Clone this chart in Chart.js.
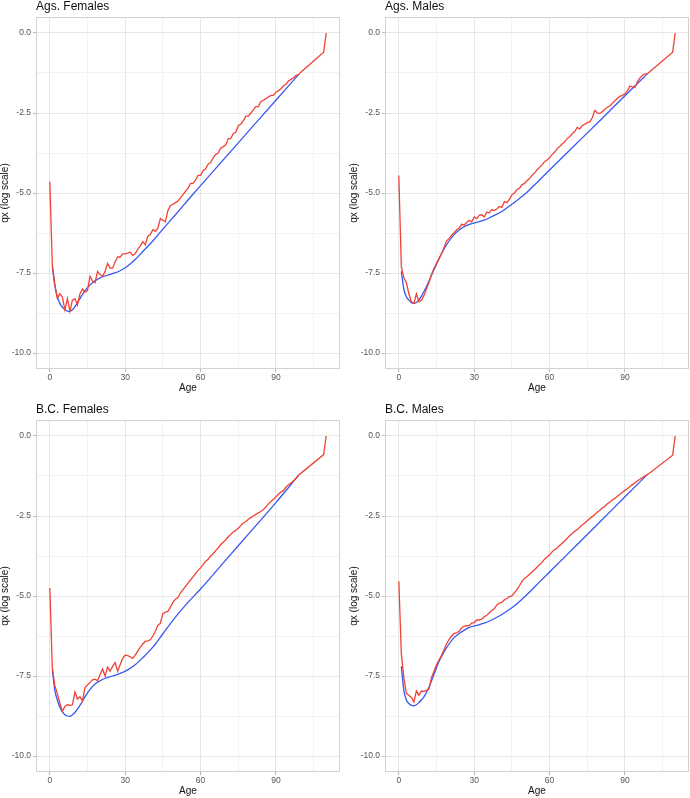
<!DOCTYPE html>
<html>
<head>
<meta charset="utf-8">
<script src="https://cdn.jsdelivr.net/npm/chart.js@4"></script>
<style>
  html, body { margin: 0; padding: 0; background: #fff; overflow: hidden; }
  #wrap { position: relative; width: 690px; height: 798px; overflow: hidden; }
  #wrap canvas { position: absolute; }
</style>
</head>
<body>
<div id="wrap">
  <canvas id="c1" width="345" height="399" style="left:0;top:0"></canvas>
  <canvas id="c2" width="345" height="399" style="left:349px;top:0"></canvas>
  <canvas id="c3" width="345" height="399" style="left:0;top:403px"></canvas>
  <canvas id="c4" width="345" height="399" style="left:349px;top:403px"></canvas>
</div>
<script>
// panel titles
const panelTitles = ['Ags. Females', 'Ags. Males', 'B.C. Females', 'B.C. Males'];

// observed ages (red line)
const obsAges = [0,1,2,3,4,5,6,7,8,9,10,11,12,13,14,15,16,17,18,19,20,21,22,23,24,25,26,27,28,29,
  30,31,32,33,34,35,36,37,38,39,40,41,42,43,44,45,46,47,48,49,50,51,52,53,54,55,56,57,58,59,
  60,61,62,63,64,65,66,67,68,69,70,71,72,73,74,75,76,77,78,79,80,81,82,83,84,85,86,87,88,89,
  90,91,92,93,94,95,96,97,98,99,100,109,110];

// fitted ages (blue line)
const fitAges = [1,2,3,4,5,6,7,8,9,10,12,14,16,18,20,22,25,28,31,34,37,41,45,50,55,60,70,80,90,99];

// log qx, observed
const obsAgsF = [-4.65,-7.25,-7.85,-8.3,-8.15,-8.25,-8.65,-8.3,-8.7,-8.35,-8.3,-8.5,-8.15,-8.0,-8.1,-8.05,-7.6,-7.75,-7.8,-7.45,
  -7.55,-7.6,-7.45,-7.2,-7.35,-7.35,-7.15,-7.0,-7.0,-6.9,-6.9,-6.88,-6.85,-6.95,-6.9,-6.75,-6.65,-6.52,-6.62,-6.35,
  -6.3,-6.15,-6.2,-6.1,-5.8,-5.85,-5.9,-5.55,-5.4,-5.35,-5.3,-5.25,-5.15,-5.05,-4.95,-4.85,-4.7,-4.7,-4.6,-4.45,
  -4.45,-4.3,-4.25,-4.1,-4.05,-3.9,-3.8,-3.75,-3.6,-3.55,-3.5,-3.3,-3.3,-3.15,-3.1,-2.9,-2.85,-2.75,-2.6,-2.6,
  -2.5,-2.4,-2.3,-2.3,-2.15,-2.1,-2.05,-2.0,-1.95,-1.95,-1.85,-1.8,-1.75,-1.65,-1.6,-1.5,-1.45,-1.4,-1.32,-1.3,
  -1.22,-0.6,0.0];
const obsAgsM = [-4.45,-7.3,-7.65,-7.8,-8.15,-8.4,-8.45,-8.15,-8.4,-8.35,-8.2,-8.0,-7.8,-7.55,-7.35,-7.2,-7.05,-6.9,-6.7,-6.5,
  -6.42,-6.32,-6.25,-6.15,-6.1,-5.98,-6.0,-5.92,-5.85,-5.9,-5.75,-5.8,-5.7,-5.68,-5.75,-5.6,-5.62,-5.52,-5.55,-5.5,
  -5.42,-5.45,-5.27,-5.3,-5.2,-5.06,-5.0,-4.9,-4.85,-4.75,-4.7,-4.62,-4.55,-4.45,-4.38,-4.28,-4.2,-4.12,-4.02,-3.97,
  -3.9,-3.8,-3.72,-3.62,-3.55,-3.47,-3.4,-3.3,-3.24,-3.15,-3.08,-2.95,-3.0,-2.9,-2.85,-2.8,-2.78,-2.65,-2.42,-2.5,
  -2.52,-2.45,-2.38,-2.32,-2.28,-2.2,-2.12,-2.05,-1.98,-1.95,-1.9,-1.8,-1.66,-1.68,-1.7,-1.52,-1.4,-1.32,-1.28,-1.27,
  -1.2,-0.6,0.0];
const obsBcF = [-4.75,-7.25,-7.8,-8.05,-8.35,-8.6,-8.45,-8.4,-8.42,-8.4,-8.0,-8.22,-8.15,-8.28,-7.86,-7.78,-7.7,-7.62,-7.6,-7.65,
  -7.45,-7.28,-7.5,-7.22,-7.35,-7.2,-7.08,-7.35,-7.15,-6.95,-6.85,-6.86,-6.9,-6.95,-6.85,-6.72,-6.6,-6.5,-6.42,-6.4,
  -6.37,-6.25,-6.1,-5.92,-5.85,-5.55,-5.5,-5.48,-5.35,-5.2,-5.1,-5.05,-4.9,-4.8,-4.7,-4.6,-4.5,-4.4,-4.3,-4.2,
  -4.12,-4.02,-3.92,-3.85,-3.75,-3.68,-3.58,-3.5,-3.4,-3.32,-3.25,-3.15,-3.08,-3.0,-2.95,-2.88,-2.8,-2.72,-2.68,-2.6,
  -2.55,-2.5,-2.45,-2.4,-2.36,-2.3,-2.22,-2.12,-2.05,-1.98,-1.9,-1.82,-1.75,-1.7,-1.6,-1.52,-1.47,-1.4,-1.32,-1.22,
  -1.16,-0.58,0.0];
const obsBcM = [-4.54,-6.8,-7.55,-8.04,-8.1,-8.17,-8.31,-7.97,-8.1,-7.97,-7.98,-7.95,-7.91,-7.55,-7.35,-7.15,-7.0,-6.85,-6.67,-6.5,
  -6.36,-6.25,-6.17,-6.15,-6.1,-6.0,-5.94,-5.93,-5.92,-5.85,-5.83,-5.75,-5.75,-5.72,-5.65,-5.6,-5.53,-5.45,-5.4,-5.28,
  -5.22,-5.2,-5.12,-5.08,-5.02,-5.0,-4.9,-4.8,-4.68,-4.55,-4.45,-4.4,-4.32,-4.25,-4.18,-4.1,-4.02,-3.95,-3.85,-3.78,
  -3.72,-3.62,-3.55,-3.5,-3.42,-3.35,-3.28,-3.2,-3.12,-3.05,-2.98,-2.92,-2.85,-2.78,-2.72,-2.65,-2.58,-2.52,-2.45,-2.38,
  -2.32,-2.25,-2.2,-2.12,-2.06,-2.0,-1.95,-1.88,-1.82,-1.76,-1.7,-1.65,-1.58,-1.52,-1.46,-1.4,-1.35,-1.3,-1.25,-1.2,
  -1.15,-0.6,0.0];

// log qx, fitted
const fitAgsF = [-7.3,-7.9,-8.25,-8.45,-8.57,-8.64,-8.69,-8.7,-8.65,-8.55,-8.3,-8.05,-7.87,-7.74,-7.65,-7.59,-7.52,-7.43,-7.28,-7.08,
  -6.83,-6.5,-6.13,-5.68,-5.22,-4.77,-3.88,-2.99,-2.1,-1.3];
const fitAgsM = [-7.45,-8.0,-8.24,-8.35,-8.43,-8.45,-8.42,-8.34,-8.22,-8.08,-7.75,-7.4,-7.05,-6.75,-6.5,-6.3,-6.1,-5.98,-5.92,-5.85,
  -5.74,-5.58,-5.35,-5.05,-4.67,-4.28,-3.51,-2.74,-1.96,-1.27];
const fitBcF = [-7.3,-7.95,-8.25,-8.48,-8.62,-8.71,-8.75,-8.76,-8.71,-8.64,-8.42,-8.15,-7.92,-7.75,-7.65,-7.57,-7.5,-7.42,-7.31,-7.15,
  -6.93,-6.6,-6.18,-5.66,-5.2,-4.78,-3.88,-2.98,-2.08,-1.23];
const fitBcM = [-7.2,-7.95,-8.25,-8.36,-8.42,-8.43,-8.4,-8.33,-8.25,-8.15,-7.85,-7.45,-7.05,-6.75,-6.5,-6.3,-6.12,-5.98,-5.92,-5.85,
  -5.75,-5.58,-5.37,-5.03,-4.64,-4.25,-3.47,-2.69,-1.9,-1.2];

const xTicks = [0, 15, 30, 45, 60, 75, 90, 105];
const yTicks = [-10, -8.75, -7.5, -6.25, -5, -3.75, -2.5, -1.25, 0];

const obsSeries = [obsAgsF, obsAgsM, obsBcF, obsBcM];
const fitSeries = [fitAgsF, fitAgsM, fitBcF, fitBcM];

const RED = 'rgb(240,66,54)';
const BLUE = 'rgb(56,88,238)';
const GRID_MAJOR = '#e6e6e6';
const GRID_MINOR = '#f2f2f2';
const TICK_COL = '#b8b8b8';
const FONT = "'Liberation Sans', Arial, Helvetica, sans-serif";

// box around the plot area, like the ggplot panel border
const panelBox = {
  id: 'panelBox',
  afterDraw(chart) {
    const { ctx, chartArea: a } = chart;
    ctx.save();
    ctx.strokeStyle = '#d2d2d2';
    ctx.lineWidth = 1;
    ctx.strokeRect(Math.round(a.left) + 0.5, Math.round(a.top) + 0.5,
      Math.round(a.width) - 1, Math.round(a.height) - 1);
    ctx.restore();
  }
};

function toPoints(ages, vals) {
  return ages.map((a, i) => ({ x: a, y: vals[i] }));
}

function makeChart(id, idx) {
  const ctx = document.getElementById(id).getContext('2d');
  return new Chart(ctx, {
    type: 'line',
    data: {
      datasets: [
        {
          label: 'Observed',
          data: toPoints(obsAges, obsSeries[idx]),
          borderColor: RED,
          borderWidth: 1.3,
          pointRadius: 0,
          tension: 0
        },
        {
          label: 'Fitted',
          data: toPoints(fitAges, fitSeries[idx]),
          borderColor: BLUE,
          borderWidth: 1.3,
          pointRadius: 0,
          cubicInterpolationMode: 'monotone'
        }
      ]
    },
    options: {
      responsive: false,
      animation: false,
      layout: { padding: { left: 0, right: 5, top: 0, bottom: 0 } },
      plugins: {
        legend: { display: false },
        tooltip: { enabled: false },
        title: {
          display: true,
          text: panelTitles[idx],
          align: 'start',
          fullSize: false,
          color: '#111',
          font: { family: FONT, size: 12, weight: 'normal', lineHeight: 1 },
          padding: { top: 1, bottom: 4 }
        }
      },
      scales: {
        x: {
          type: 'linear',
          min: -5.5,
          max: 115.5,
          afterBuildTicks: s => { s.ticks = xTicks.map(v => ({ value: v })); },
          afterFit: s => { s.height = 30; },
          border: { display: false },
          grid: {
            color: c => (c.tick && c.tick.value % 30 === 0) ? GRID_MAJOR : GRID_MINOR,
            tickColor: c => (c.tick && c.tick.value % 30 === 0) ? TICK_COL : 'rgba(0,0,0,0)',
            tickLength: 3,
            lineWidth: 1
          },
          ticks: {
            autoSkip: false,
            maxRotation: 0,
            padding: 1,
            color: '#555',
            font: { family: FONT, size: 8.5 },
            callback: v => (v % 30 === 0 ? String(v) : '')
          },
          title: {
            display: true,
            text: 'Age',
            color: '#111',
            font: { family: FONT, size: 10, lineHeight: 1 },
            padding: { top: 0, bottom: 6 }
          }
        },
        y: {
          type: 'linear',
          min: -10.5,
          max: 0.5,
          afterBuildTicks: s => { s.ticks = yTicks.map(v => ({ value: v })); },
          afterFit: s => { s.width = 36; },
          border: { display: false },
          grid: {
            color: c => (c.tick && c.tick.value % 2.5 === 0) ? GRID_MAJOR : GRID_MINOR,
            tickColor: c => (c.tick && c.tick.value % 2.5 === 0) ? TICK_COL : 'rgba(0,0,0,0)',
            tickLength: 3,
            lineWidth: 1
          },
          ticks: {
            autoSkip: false,
            padding: 2,
            color: '#555',
            font: { family: FONT, size: 8.5 },
            callback: v => (v % 2.5 === 0 ? Number(v).toFixed(1) : '')
          },
          title: {
            display: true,
            text: 'qx (log scale)',
            color: '#111',
            font: { family: FONT, size: 10, lineHeight: 1 },
            padding: { top: 0, bottom: 0 }
          }
        }
      }
    },
    plugins: [panelBox]
  });
}

makeChart('c1', 0);
makeChart('c2', 1);
makeChart('c3', 2);
makeChart('c4', 3);
</script>
</body>
</html>
